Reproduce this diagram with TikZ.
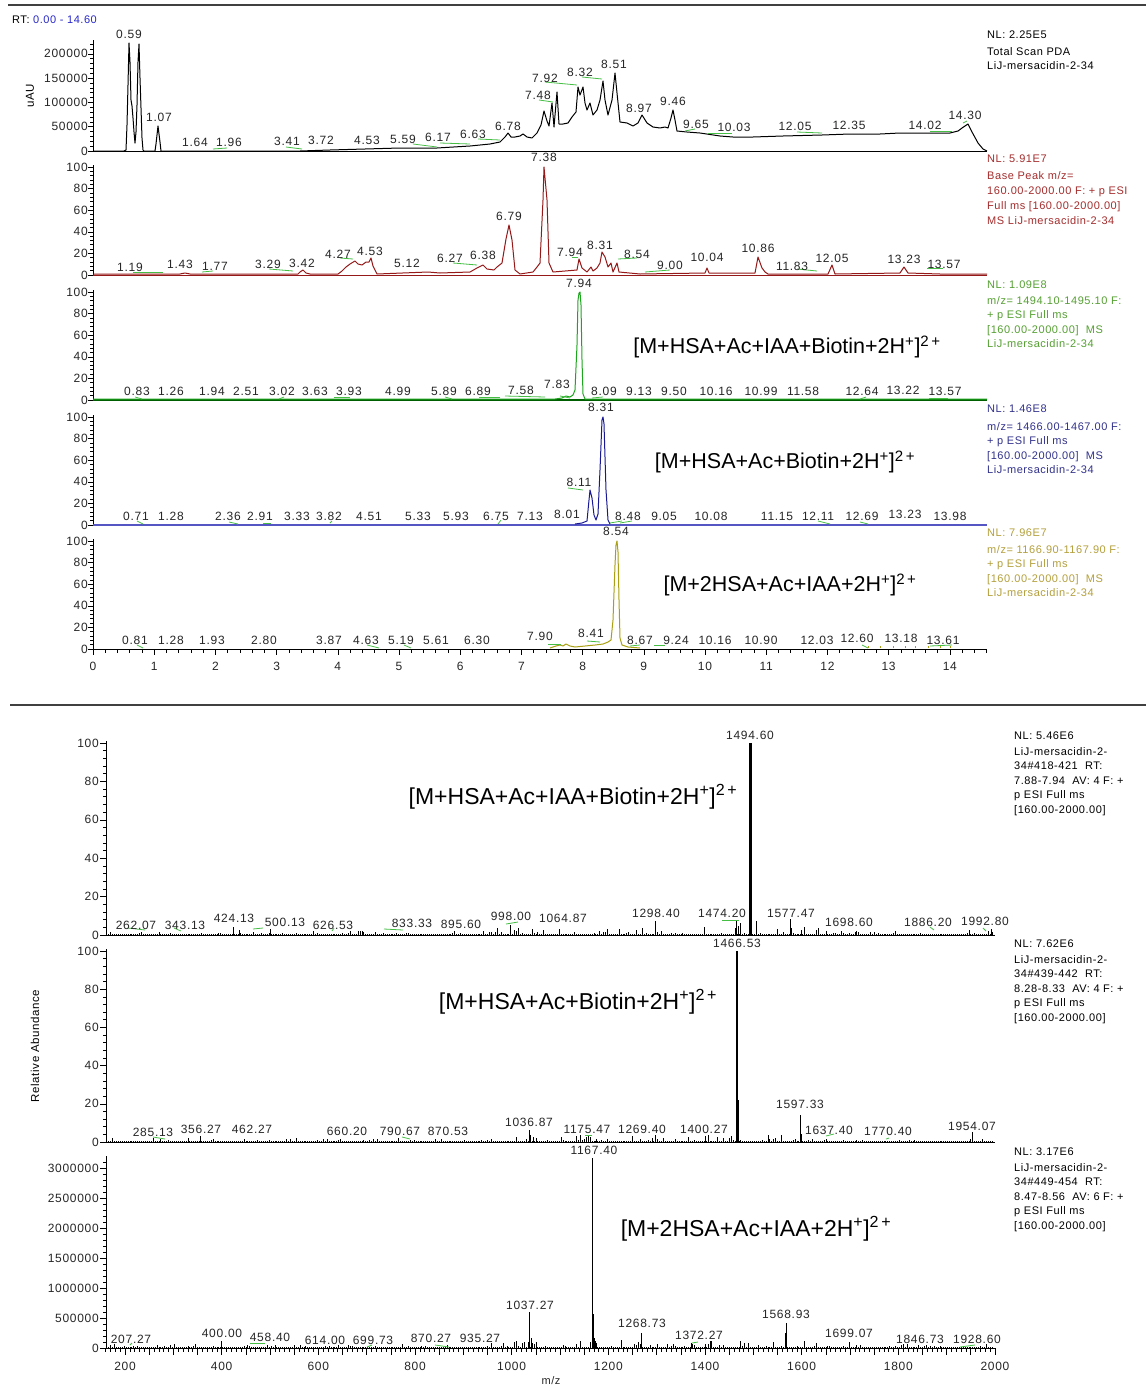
\documentclass[tikz,border=0pt]{standalone}
\usepackage{fontspec}
\setmainfont{Liberation Sans}
\newfontfamily\pkfont[LetterSpace=6]{Liberation Sans}
\newfontfamily\infofont[LetterSpace=5]{Liberation Sans}
\newcommand\myfs[1]{\fontsize{#1}{#1}\selectfont}
\definecolor{ctred}{RGB}{150,25,25}
\definecolor{cxred}{RGB}{165,45,45}
\definecolor{ctgrn}{RGB}{30,165,30}
\definecolor{cbgrn}{RGB}{0,95,0}
\definecolor{cxgrn}{RGB}{85,160,50}
\definecolor{ctblu}{RGB}{25,25,150}
\definecolor{cbblu}{RGB}{85,85,195}
\definecolor{cxblu}{RGB}{50,50,140}
\definecolor{ctolv}{RGB}{170,160,20}
\definecolor{cxolv}{RGB}{180,160,60}
\definecolor{lgrn}{RGB}{70,190,70}
\definecolor{rtblue}{RGB}{40,40,200}
\begin{document}
\begin{tikzpicture}[x=1pt,y=-1pt,
  pk/.style={font=\pkfont\myfs{12}, inner sep=0pt, text=black!85},
  yl/.style={font=\pkfont\myfs{12}, inner sep=0pt, anchor=east, text=black!85},
  info/.style={font=\infofont\myfs{11}, inner sep=0pt, anchor=base west},
  bigc/.style={font=\myfs{21.5}, inner sep=0pt},
  bigs/.style={font=\myfs{23}, inner sep=0pt},
  ax/.style={line width=0.9pt, black},
  tk/.style={line width=0.6pt, black},
  mk/.style={lgrn, line width=0.8pt},
  noise/.style={line width=0.6pt, black},
  spk/.style={line width=0.9pt, black},
  trc/.style={line width=1pt, line join=round}]
\useasboundingbox (0,0) rectangle (1146,1387);
\fill[white] (0,0) rectangle (1146,1387);
% separators
\draw[line width=1.2pt, black!75] (8,5) -- (1146,5);
\draw[line width=1.2pt, black!75] (10,705) -- (1146,705);
\node[info, anchor=west] (rt) at (12,20) {RT: \textcolor{rtblue}{0.00 - 14.60}};
\node[font=\infofont\myfs{11.5}, rotate=90, inner sep=0pt] (uau) at (30,96) {uAU};
% ---------- panel 1 axis
\draw[ax] (93,151) -- (93,40);
\foreach \v in {0,...,22} \draw[tk] (93,{151-\v*4.86}) -- ++(-3,0);
\foreach \v/\lab in {0/0,5/50000,10/100000,15/150000,20/200000} {
  \draw[tk] (93,{151-\v*4.86}) -- ++(-5.5,0);
  \node[yl] (ya\v) at (88,{151-\v*4.86}) {\lab};
}
% ---------- panels 2-5 axes
\foreach \Z [count=\k] in {275,400,525,649} {
  \draw[ax] (93,\Z) -- (93,{\Z-110});
  \foreach \v in {0,4,...,100} \draw[tk] (93,{\Z-\v*1.08}) -- ++(-3,0);
  \foreach \v in {0,20,...,100} {
    \draw[tk] (93,{\Z-\v*1.08}) -- ++(-5.5,0);
    \node[yl] (yb\k-\v) at (88,{\Z-\v*1.08}) {\v};
  }
}
% baselines
\draw[ax] (93,151) -- (987,151);
\draw[ctred, line width=0.9pt] (93,275) -- (987,275);
\draw[cbgrn, line width=2.2pt] (93,400) -- (987,400);
\draw[cbblu, line width=1.2pt] (93,525) -- (987,525);
\draw[ax] (93,649) -- (987,649);
% x ticks
\foreach \t in {0,...,73} \draw[tk] ({93+\t*12.24},649) -- ++(0,4);
\foreach \t in {0,...,14} {
  \draw[tk] ({93+\t*61.2},649) -- ++(0,6);
  \node[pk] (xt\t) at ({93+\t*61.2},666) {\t};
}
% ---------- traces
\draw[trc, black] plot coordinates {(93,151) (124,151) (126,150) (127,125) (128,85) (129,43) (130,62) (131,100) (132,106) (133,118) (134,132) (135,143) (136,132) (137,105) (138,62) (139,44) (140,78) (141,108) (142,138) (143,150) (144,151) (155,151) (156,144) (158,126) (160,142) (161,151) (300,151) (330,150) (400,148) (437,148) (470,146) (490,144) (500,142) (505,137) (508,133) (511,137) (515,137) (520,136) (523,134) (527,137) (532,138) (537,133) (541,125) (544,111) (547,121) (549,126) (552,103) (554,127) (557,92) (559,124) (563,124) (568,123) (572,117) (576,112) (578,87) (580,95) (583,87) (585,103) (587,110) (590,103) (593,115) (597,110) (600,100) (603,81) (605,100) (608,115) (612,100) (615,73) (617,93) (620,122) (627,123) (633,126) (638,123) (642,115) (647,123) (653,127) (660,128) (665,127) (668,128) (671,118) (673,110) (675,120) (677,131) (687,132) (700,133) (720,136) (733,137) (753,137) (783,136) (822,135) (850,134) (880,134) (900,133) (950,133) (958,131) (962,128) (968,124) (972,132) (978,143) (983,149) (987,151)};
\draw[trc, ctred] plot coordinates {(93,274) (180,274) (185,273) (190,274) (298,274) (300,272) (303,270) (306,273) (310,274) (338,274) (342,271) (346,267) (350,264) (355,261) (358,264) (362,265) (366,262) (369,262) (371,258) (373,266) (377,274) (428,272) (440,273) (470,272) (477,268) (483,265) (487,269) (494,270) (497,267) (502,263) (506,239) (509,225) (512,240) (515,270) (520,274) (533,272) (537,267) (540,263) (543,200) (544,167) (547,200) (549,263) (553,272) (577,270) (579,259) (582,268) (587,272) (591,267) (593,271) (597,268) (600,263) (602,252) (605,257) (608,267) (611,263) (613,272) (617,263) (619,272) (640,274) (705,273) (707,268) (709,273) (755,273) (758,257) (762,268) (765,272) (768,274) (828,274) (832,265) (835,274) (900,273) (904,267) (908,273) (940,274) (987,274)};
\draw[trc, ctgrn] plot coordinates {(93,399) (555,399) (562,398) (566,396) (570,397) (573,395) (575,390) (577,345) (578,300) (579,293) (580,292) (581,305) (582,360) (583,394) (585,399) (987,399)};
\draw[trc, ctblu] plot coordinates {(575,524) (582,523) (587,521) (589,500) (590,490) (592,498) (594,515) (596,520) (598,514) (600,470) (602,420) (603,417) (604,424) (606,490) (608,520) (610,524)};
\draw[trc, ctolv] plot coordinates {(550,648) (556,646) (560,645) (563,646) (566,644) (570,646) (575,647) (585,646) (595,645) (603,644) (608,642) (611,640) (613,620) (615,565) (616,545) (617,541) (618,552) (619,600) (620,638) (622,645) (628,647) (640,648)};
\foreach \x in {868,880,893,905,915,928,940,950} \draw[ctolv, line width=0.8pt] (\x,648) -- ++(0,-2);
% green marks chromatograms
\foreach \xa/\ya/\xb/\yb in {213/149/227/148, 286/147/302/149, 440/143/470/144, 413/144/437/147, 478/139/500/140, 539/100/553/102, 545/82/577/85, 582/77/602/79, 685/131/695/129, 708/133/732/133, 797/132/822/133, 930/131/952/131, 963/123/967/121,
 133/272/163/272, 202/272/213/271, 269/269/293/271, 340/258/353/259, 453/263/477/265, 572/257/578/257, 618/259/637/258, 645/272/670/270, 797/269/817/271, 927/268/943/268,
 135/397/142/399, 279/399/284/397, 334/397/350/397, 445/397/452/399, 479/397/500/397, 505/396/545/397, 560/396/570/398, 592/398/603/397, 860/399/866/397, 929/398/948/398,
 137/521/143/524, 229/522/238/524, 263/523/271/523, 330/523/332/521, 498/524/501/520, 568/488/583/490, 610/523/622/521, 620/523/632/521, 818/521/830/524, 860/522/868/524,
 137/645/143/648, 367/645/379/648, 404/645/411/648, 548/644/561/644, 587/641/600/642, 630/646/640/645, 654/645/665/645, 862/645/868/648, 930/646/952/645}
  \draw[mk] (\xa,\ya) -- (\xb,\yb);
% ---------- peak labels chromatograms
\foreach \lab/\x/\y [count=\i] in {0.59/129/34, 1.07/159/117, 1.64/195/142, 1.96/229/142, 3.41/287/141, 3.72/321/140, 4.53/367/140, 5.59/403/139, 6.17/438/137, 6.63/473/134, 6.78/508/126, 7.48/538/95, 7.92/545/78, 8.32/580/72, 8.51/614/64, 8.97/639/108, 9.46/673/101, 9.65/696/124, 10.03/734/127, 12.05/795/126, 12.35/849/125, 14.02/925/125, 14.30/965/115}
  \node[pk] (la\i) at (\x,\y) {\lab};
\foreach \lab/\x/\y [count=\i] in {1.19/130/267, 1.43/180/264, 1.77/215/266, 3.29/268/264, 3.42/302/263, 4.27/338/254, 4.53/370/251, 5.12/407/263, 6.27/450/258, 6.38/483/255, 6.79/509/216, 7.38/544/157, 7.94/570/252, 8.31/600/245, 8.54/637/254, 9.00/670/265, 10.04/707/257, 10.86/758/248, 11.83/792/266, 12.05/832/258, 13.23/904/259, 13.57/944/264}
  \node[pk] (lb\i) at (\x,\y) {\lab};
\foreach \lab/\x/\y [count=\i] in {0.83/137/391, 1.26/171/391, 1.94/212/391, 2.51/246/391, 3.02/282/391, 3.63/315/391, 3.93/349/391, 4.99/398/391, 5.89/444/391, 6.89/478/391, 7.58/521/390, 7.83/557/384, 7.94/579/283, 8.09/604/391, 9.13/639/391, 9.50/674/391, 10.16/716/391, 10.99/761/391, 11.58/803/391, 12.64/862/391, 13.22/903/390, 13.57/945/391}
  \node[pk] (lc\i) at (\x,\y) {\lab};
\foreach \lab/\x/\y [count=\i] in {0.71/136/516, 1.28/171/516, 2.36/228/516, 2.91/260/516, 3.33/297/516, 3.82/329/516, 4.51/369/516, 5.33/418/516, 5.93/456/516, 6.75/496/516, 7.13/530/516, 8.01/567/514, 8.11/579/482, 8.31/601/407, 8.48/628/516, 9.05/664/516, 10.08/711/516, 11.15/777/516, 12.11/818/516, 12.69/862/516, 13.23/905/514, 13.98/950/516}
  \node[pk] (ld\i) at (\x,\y) {\lab};
\foreach \lab/\x/\y [count=\i] in {0.81/135/640, 1.28/171/640, 1.93/212/640, 2.80/264/640, 3.87/329/640, 4.63/366/640, 5.19/401/640, 5.61/436/640, 6.30/477/640, 7.90/540/636, 8.41/591/633, 8.54/616/531, 8.67/640/640, 9.24/676/640, 10.16/715/640, 10.90/761/640, 12.03/817/640, 12.60/857/638, 13.18/901/638, 13.61/943/640}
  \node[pk] (le\i) at (\x,\y) {\lab};
% big labels chromatograms
\node[bigc] (bc1) at (787,347) {[M+HSA+Ac+IAA+Biotin+2H\textsuperscript{+}]\textsuperscript{2\,+}};
\node[bigc] (bc2) at (785,462) {[M+HSA+Ac+Biotin+2H\textsuperscript{+}]\textsuperscript{2\,+}};
\node[bigc] (bc3) at (790,585) {[M+2HSA+Ac+IAA+2H\textsuperscript{+}]\textsuperscript{2\,+}};
% info blocks chromatograms
\node[info] (ia0) at (987,38) {NL: 2.25E5};
\foreach \lab [count=\i] in {Total Scan PDA, LiJ-mersacidin-2-34}
  \node[info] (ia\i) at (987,{55+(\i-1)*14.5}) {\lab};
\node[info, text=cxred] (ib0) at (987,162) {NL: 5.91E7};
\foreach \lab [count=\i] in {Base Peak m/z=, 160.00-2000.00 F: + p ESI, Full ms [160.00-2000.00], MS LiJ-mersacidin-2-34}
  \node[info, text=cxred] (ib\i) at (987,{179+(\i-1)*15}) {\lab};
\node[info, text=cxgrn] (ic0) at (987,288) {NL: 1.09E8};
\foreach \lab [count=\i] in {m/z= 1494.10-1495.10 F:, + p ESI Full ms, [160.00-2000.00]\ \ MS, LiJ-mersacidin-2-34}
  \node[info, text=cxgrn] (ic\i) at (987,{304+(\i-1)*14.5}) {\lab};
\node[info, text=cxblu] (id0) at (987,412) {NL: 1.46E8};
\foreach \lab [count=\i] in {m/z= 1466.00-1467.00 F:, + p ESI Full ms, [160.00-2000.00]\ \ MS, LiJ-mersacidin-2-34}
  \node[info, text=cxblu] (id\i) at (987,{430+(\i-1)*14.5}) {\lab};
\node[info, text=cxolv] (ie0) at (987,536) {NL: 7.96E7};
\foreach \lab [count=\i] in {m/z= 1166.90-1167.90 F:, + p ESI Full ms, [160.00-2000.00]\ \ MS, LiJ-mersacidin-2-34}
  \node[info, text=cxolv] (ie\i) at (987,{553+(\i-1)*14.5}) {\lab};
% =========== spectra
\node[font=\infofont\myfs{11.5}, rotate=90, inner sep=0pt] (relab) at (35,1046) {Relative Abundance};
\draw[ax] (106,935) -- (106,741);
\draw[ax] (106,1142) -- (106,949);
\draw[ax] (106,1348) -- (106,1156);
\foreach \v in {0,4,...,100} {
  \draw[tk] (106,{935-\v*1.92}) -- ++(-3,0);
  \draw[tk] (106,{1142-\v*1.91}) -- ++(-3,0);
}
\foreach \v in {0,20,...,100} {
  \draw[tk] (106,{935-\v*1.92}) -- ++(-6,0);
  \node[yl] (sa\v) at (99,{935-\v*1.92}) {\v};
  \draw[tk] (106,{1142-\v*1.91}) -- ++(-6,0);
  \node[yl] (sb\v) at (99,{1142-\v*1.91}) {\v};
}
\foreach \v in {0,...,31} \draw[tk] (106,{1348-\v*6}) -- ++(-3,0);
\foreach \v/\lab in {0/0,5/500000,10/1000000,15/1500000,20/2000000,25/2500000,30/3000000} {
  \draw[tk] (106,{1348-\v*6}) -- ++(-6,0);
  \node[yl] (sc\v) at (99,{1348-\v*6}) {\lab};
}
\draw[ax] (106,935) -- (995,935);
\draw[ax] (106,1142) -- (995,1142);
\draw[ax] (106,1348) -- (995,1348);
\foreach \m in {160,170,...,2000} \draw[tk] ({125+(\m-200)*0.4833},1348) -- ++(0,3.5);
\foreach \m in {200,250,...,2000} \draw[tk] ({125+(\m-200)*0.4833},1348) -- ++(0,6.5);
\foreach \m in {200,400,...,2000} \node[pk] (mz\m) at ({125+(\m-200)*0.4833},1366) {\m};
\node[pk, font=\infofont\myfs{11}] (mzl) at (551,1381) {m/z};
% noise
\pgfmathsetseed{11}
\foreach \B/\amp in {935/4, 1142/3.5, 1348/3.5} {
  \foreach \m in {166,170,...,1994} {
    \pgfmathsetmacro\h{0.6+\amp*rnd^6*(1+(\m>950)*(\m<1650))}
    \draw[noise] ({125+(\m-200)*0.4833},\B) -- ++(0,-\h);
  }
}
% named small peaks
\foreach \m/\hh in {424.13/8, 436/5, 500.13/6, 998/10, 1010/4, 1064.87/5, 1298.4/14, 1466/14, 1470/9, 1474.2/12, 1506/14, 1577.47/16, 1600/5, 1992.8/6}
  \draw[spk] ({125+(\m-200)*0.4833},935) -- ++(0,-\hh);
\foreach \m/\hh in {356.27/6, 1036.87/12, 1046/5, 1400.27/6, 1469/42, 1597.33/27, 1600/8, 1954.07/10, 1175/3}
  \draw[spk] ({125+(\m-200)*0.4833},1142) -- ++(0,-\hh);
\foreach \m/\hh in {400/7, 1037.27/36, 1040/10, 1044/5, 1169.5/34, 1172/10, 1176/5, 1268.73/15, 1372.27/5, 1400/4, 1566/15, 1568.93/25, 1699.07/6}
  \draw[spk] ({125+(\m-200)*0.4833},1348) -- ++(0,-\hh);
\draw[line width=2.4pt] ({125+1294.6*0.4833},935) -- ++(0,-192);
\draw[line width=2.2pt] ({125+1266.53*0.4833},1142) -- ++(0,-191);
\draw[line width=1.5pt] ({125+967.4*0.4833},1348) -- ++(0,-190);
% green marks spectra
\foreach \xa/\ya/\xb/\yb in {128/928/145/930, 174/928/181/931, 253/929/263/928, 332/931/334/928, 384/929/403/930, 506/924/518/922, 722/920/739/920, 930/927/934/930, 983/928/986/931,
 153/1137/165/1139, 402/1137/410/1139, 585/1135/592/1135, 826/1136/834/1134, 886/1139/889/1138,
 130/1345/132/1343, 250/1343/265/1343, 367/1347/372/1345, 435/1345/449/1347, 692/1343/698/1342, 960/1347/975/1345}
  \draw[mk] (\xa,\ya) -- (\xb,\yb);
% spectra peak labels
\foreach \lab/\x/\y [count=\i] in {262.07/136/925, 343.13/185/925, 424.13/234/918, 500.13/285/922, 626.53/333/925, 833.33/412/923, 895.60/461/924, 998.00/511/916, 1064.87/563/918, 1298.40/656/913, 1474.20/722/913, 1494.60/750/735, 1577.47/791/913, 1698.60/849/922, 1886.20/928/922, 1992.80/985/921}
  \node[pk] (sl\i) at (\x,\y) {\lab};
\foreach \lab/\x/\y [count=\i] in {285.13/153/1132, 356.27/201/1129, 462.27/252/1129, 660.20/347/1131, 790.67/400/1131, 870.53/448/1131, 1036.87/529/1122, 1175.47/587/1129, 1269.40/642/1129, 1400.27/704/1129, 1466.53/737/943, 1597.33/800/1104, 1637.40/829/1130, 1770.40/888/1131, 1954.07/972/1126}
  \node[pk] (sm\i) at (\x,\y) {\lab};
\foreach \lab/\x/\y [count=\i] in {207.27/131/1339, 400.00/222/1333, 458.40/270/1337, 614.00/325/1340, 699.73/373/1340, 870.27/431/1338, 935.27/480/1338, 1037.27/530/1305, 1167.40/594/1150, 1268.73/642/1323, 1372.27/699/1335, 1568.93/786/1314, 1699.07/849/1333, 1846.73/920/1339, 1928.60/977/1339}
  \node[pk] (sn\i) at (\x,\y) {\lab};
% big labels spectra
\node[bigs] (bs1) at (573,797) {[M+HSA+Ac+IAA+Biotin+2H\textsuperscript{+}]\textsuperscript{2\,+}};
\node[bigs] (bs2) at (578,1002) {[M+HSA+Ac+Biotin+2H\textsuperscript{+}]\textsuperscript{2\,+}};
\node[bigs] (bs3) at (756,1229) {[M+2HSA+Ac+IAA+2H\textsuperscript{+}]\textsuperscript{2\,+}};
% info spectra
\foreach \lab [count=\i] in {NL: 5.46E6, LiJ-mersacidin-2-, 34\#418-421\ \ RT:, 7.88-7.94\ \ AV: 4 F: +, p ESI Full ms, [160.00-2000.00]}
  \node[info] (ja\i) at (1014,{739+(\i-1)*14.5+(\i>1)*1.5}) {\lab};
\foreach \lab [count=\i] in {NL: 7.62E6, LiJ-mersacidin-2-, 34\#439-442\ \ RT:, 8.28-8.33\ \ AV: 4 F: +, p ESI Full ms, [160.00-2000.00]}
  \node[info] (jb\i) at (1014,{947+(\i-1)*14.5+(\i>1)*1.5}) {\lab};
\foreach \lab [count=\i] in {NL: 3.17E6, LiJ-mersacidin-2-, 34\#449-454\ \ RT:, 8.47-8.56\ \ AV: 6 F: +, p ESI Full ms, [160.00-2000.00]}
  \node[info] (jc\i) at (1014,{1155+(\i-1)*14.5+(\i>1)*1.5}) {\lab};
\end{tikzpicture}
\end{document}
